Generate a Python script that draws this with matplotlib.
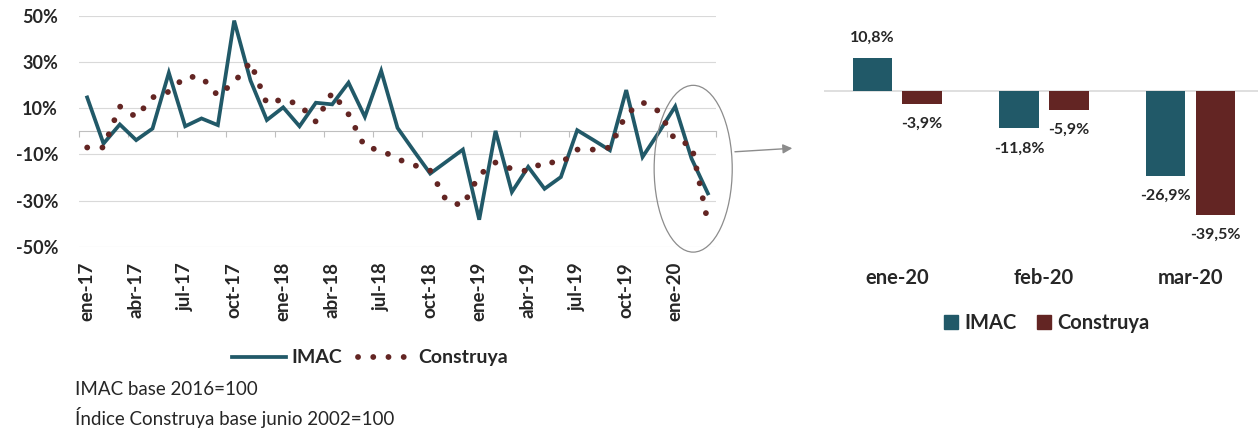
import numpy as np
import matplotlib.pyplot as plt
from matplotlib.lines import Line2D
from matplotlib.patches import Ellipse, FancyArrowPatch, Patch

plt.rcParams['font.family'] = ['Lato', 'DejaVu Sans']

# datos mensuales (variacion % anual), ene-17 a mar-20
meses = ['ene', 'feb', 'mar', 'abr', 'may', 'jun', 'jul', 'ago', 'sep', 'oct', 'nov', 'dic']
periodos = [f"{m}-{a}" for a in range(17, 21) for m in meses][:39]

imac = [14.7, -5.3, 3.0, -3.8, 1.2, 25.4, 2.2, 5.6, 2.7, 48.0, 22.0, 4.9,
        10.4, 2.2, 12.4, 11.7, 21.1, 6.3, 26.2, 1.5, -8.5, -18.3, -13.1, -7.9,
        -38.3, 0.2, -26.3, -15.4, -24.9, -19.8, 0.5, -3.8, -8.2, 17.9, -11.1, -0.4,
        10.8, -11.8, -26.9]
construya = [-7.0, -7.0, 10.8, 6.2, 14.7, 17.2, 23.6, 23.6, 15.5, 21.3, 30.0, 12.0,
             14.0, 11.5, 4.2, 16.8, 7.4, -6.8, -8.2, -12.0, -14.6, -17.0, -30.2, -32.2,
             -18.9, -13.5, -16.3, -17.3, -13.1, -13.9, -7.9, -7.9, -7.0, 7.4, 12.6, 8.7,
             -3.9, -5.9, -39.5]

# detalle primer trimestre 2020
bar_cats = ['ene-20', 'feb-20', 'mar-20']
bar_imac = [10.8, -11.8, -26.9]
bar_construya = [-3.9, -5.9, -39.5]

y_ticks = [-50, -30, -10, 10, 30, 50]

C_IMAC = '#215968'
C_CONS = '#632523'
TXT = '#262626'
LW_LINE = 2.7
LW_DOT = 4.2
DOTS = (0, (0.01, 2.6))

fig = plt.figure(figsize=(12.58, 4.28), dpi=100)

# -------------------- grafico de lineas --------------------
ax = fig.add_axes([0.0628, 0.4236, 0.5064, 0.5390])
x = np.arange(len(periodos))
ax.plot(x, imac, color=C_IMAC, lw=LW_LINE, zorder=3, solid_joinstyle='miter')
ax.plot(x, construya, color=C_CONS, lw=LW_DOT, linestyle=DOTS,
        dash_capstyle='round', zorder=4)

ax.set_xlim(-0.5, len(periodos) - 0.5)
ax.set_ylim(-50, 50)
ax.set_yticks(y_ticks, [f"{v}%" for v in y_ticks], fontweight='bold', color=TXT)
ax.tick_params(axis='y', length=0, pad=15, labelsize=13)
ax.yaxis.grid(True, color='#D9D9D9', lw=0.8)
ax.set_axisbelow(True)

for s in ['top', 'right', 'left']:
    ax.spines[s].set_visible(False)
ax.spines['bottom'].set_position(('data', 0))
ax.spines['bottom'].set_color('#BFBFBF')
ax.spines['bottom'].set_linewidth(0.8)
ax.set_xticks(np.arange(-0.5, len(periodos), 3))
ax.tick_params(axis='x', direction='out', length=4, width=0.8, color='#BFBFBF',
               labelbottom=False)

sec = ax.secondary_xaxis(0.0)
sec.set_xticks(x[::3], periodos[::3], rotation=90, fontweight='bold', color=TXT)
sec.tick_params(length=0, pad=11, labelsize=13.5)
sec.spines['bottom'].set_visible(False)

# ovalo y flecha hacia el detalle
ax.add_patch(Ellipse((37.1, -16.2), 4.78, 72.3, fill=False, ec='#8C8C8C',
                     lw=0.9, clip_on=False, zorder=5))
fig.add_artist(FancyArrowPatch((0.582, 0.645), (0.632, 0.654), transform=fig.transFigure,
                               arrowstyle='-|>', mutation_scale=14, color='#8C8C8C', lw=1))

leg_handles = [Line2D([], [], color=C_IMAC, lw=LW_LINE),
               Line2D([], [], color=C_CONS, lw=LW_DOT, linestyle=DOTS, dash_capstyle='round')]
fig.legend(leg_handles, ['IMAC', 'Construya'], loc='center', bbox_to_anchor=(0.294, 0.164),
           ncol=2, frameon=False, prop=dict(weight='bold', size=14), labelcolor=TXT,
           handlelength=2.8, handletextpad=0.3, columnspacing=0.8)

fig.text(0.0596, 0.0888, 'IMAC base 2016=100', fontsize=13.5, color=TXT, va='center')
fig.text(0.0596, 0.0257, 'Índice Construya base junio 2002=100', fontsize=13.5,
         color=TXT, va='center')

# -------------------- grafico de barras --------------------
bx = fig.add_axes([0.655, 0.3925, 0.345, 0.584])
xb = np.arange(len(bar_cats))
w = 0.27
b1 = bx.bar(xb - 0.17, bar_imac, w, color=C_IMAC)
b2 = bx.bar(xb + 0.17, bar_construya, w, color=C_CONS)
bx.axhline(0, color='#D9D9D9', lw=1.2, zorder=0)
bx.set_xlim(-0.5, 2.46)
bx.set_ylim(-53.9, 26)
bx.set_yticks([])
bx.set_xticks(xb, bar_cats, fontweight='bold', color=TXT)
bx.tick_params(axis='x', length=0, pad=6, labelsize=14.5)
for s in bx.spines.values():
    s.set_visible(False)

# etiquetas de datos con coma decimal
for bars, vals in ((b1, bar_imac), (b2, bar_construya)):
    for rect, val in zip(bars, vals):
        bx.annotate(f"{val:.1f}".replace('.', ',') + '%',
                    (rect.get_x() + rect.get_width() / 2, val),
                    xytext=(0, 14.4 if val >= 0 else -14.4), textcoords='offset points',
                    ha='center', va='center', fontsize=11.5, fontweight='bold', color=TXT)

bx.legend([Patch(color=C_IMAC), Patch(color=C_CONS)], ['IMAC', 'Construya'],
          loc='center', bbox_to_anchor=(0.832, 0.2453), bbox_transform=fig.transFigure,
          ncol=2, frameon=False, prop=dict(weight='bold', size=14.5), labelcolor=TXT,
          handlelength=0.7, handleheight=0.7, handletextpad=0.3, columnspacing=1.0)

fig.savefig('out.png', dpi=100)
